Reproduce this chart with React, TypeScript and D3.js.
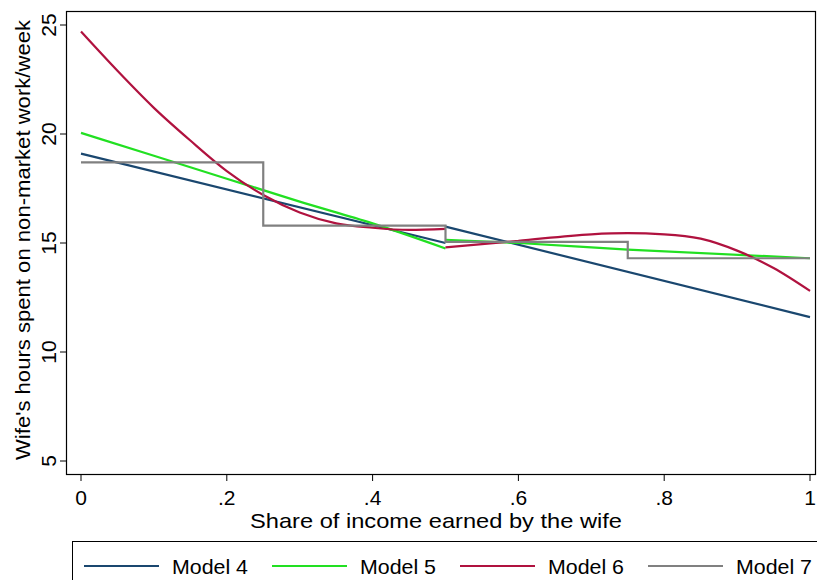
import * as d3 from 'd3';

const model4: [number, number][][] = [
  [[0, 19.1], [0.5, 15.0]],
  [[0.5, 15.75], [1, 11.6]],
];
const model5: [number, number][][] = [
  [[0, 20.05], [0.1, 19.0], [0.2, 17.95], [0.3, 16.9], [0.4, 15.9], [0.5, 14.75]],
  [[0.5, 15.15], [0.6, 15.0], [0.75, 14.7], [1, 14.3]],
];
const model6: [number, number][][] = [
  [[0, 24.7], [0.05, 22.9], [0.1, 21.2], [0.15, 19.7], [0.2, 18.3], [0.25, 17.2], [0.3, 16.4],
   [0.35, 15.9], [0.4, 15.7], [0.45, 15.6], [0.5, 15.65]],
  [[0.5, 14.8], [0.6, 15.1], [0.7, 15.4], [0.75, 15.45], [0.8, 15.4], [0.85, 15.2],
   [0.9, 14.65], [0.95, 13.85], [1, 12.8]],
];
const model7: [number, number][][] = [
  [[0, 18.7], [0.25, 18.7], [0.25, 15.8], [0.5, 15.8], [0.5, 15.05], [0.75, 15.05], [0.75, 14.3], [1, 14.3]],
];
const series = [
  { name: 'Model 4', color: '#1a476f', data: model4, curve: d3.curveLinear },
  { name: 'Model 5', color: '#22e022', data: model5, curve: d3.curveMonotoneX },
  { name: 'Model 6', color: '#b0123f', data: model6, curve: d3.curveMonotoneX },
  { name: 'Model 7', color: '#808080', data: model7, curve: d3.curveLinear },
];
const xTicks = [0, 0.2, 0.4, 0.6, 0.8, 1];
const yTicks = [5, 10, 15, 20, 25];

const fmtX = (v: number) => (v === 0 ? '0' : v === 1 ? '1' : String(v).replace(/^0/, ''));

export default function App() {
  const W = 817, H = 580;
  const x = d3.scaleLinear().domain([0, 1]).range([81, 810]);
  const y = d3.scaleLinear().domain([5, 25]).range([461, 25]);
  const font = 'Arial, "Liberation Sans", sans-serif';
  return (
    <svg width={W} height={H} style={{ position: 'absolute', left: 0, top: 0, background: '#fff' }} fontFamily={font}>
      <rect x={66.5} y={11.5} width={749} height={463} fill="none" stroke="#000" strokeWidth={1.2} />
      {series.map(s =>
        s.data.map((seg, i) => (
          <path key={s.name + i} d={d3.line().x(d => x(d[0])).y(d => y(d[1])).curve(s.curve)(seg) || ''}
            fill="none" stroke={s.color} strokeWidth={2.2} />
        ))
      )}
      {yTicks.map(t => (
        <g key={t}>
          <line x1={60} x2={66} y1={y(t)} y2={y(t)} stroke="#000" />
          <text transform={`translate(56,${y(t)}) rotate(-90)`} textAnchor="middle" fontSize={21}>{t}</text>
        </g>
      ))}
      {xTicks.map(t => (
        <g key={t}>
          <line x1={x(t)} x2={x(t)} y1={475} y2={481} stroke="#000" />
          <text x={x(t)} y={505} textAnchor="middle" fontSize={21}>{fmtX(t)}</text>
        </g>
      ))}
      <text x={436} y={528} textAnchor="middle" fontSize={21} textLength={372} lengthAdjust="spacingAndGlyphs">Share of income earned by the wife</text>
      <text transform="translate(30,240) rotate(-90)" textAnchor="middle" fontSize={21} textLength={440} lengthAdjust="spacingAndGlyphs">Wife's hours spent on non-market work/week</text>
      <rect x={72.5} y={541.5} width={745} height={60} fill="none" stroke="#000" strokeWidth={1} />
      {series.map((s, i) => {
        const lx = 84 + i * 188;
        return (
          <g key={s.name}>
            <line x1={lx} x2={lx + 75} y1={566} y2={566} stroke={s.color} strokeWidth={2.2} />
            <text x={lx + 88} y={574} fontSize={21} textLength={76} lengthAdjust="spacingAndGlyphs">{s.name}</text>
          </g>
        );
      })}
    </svg>
  );
}
